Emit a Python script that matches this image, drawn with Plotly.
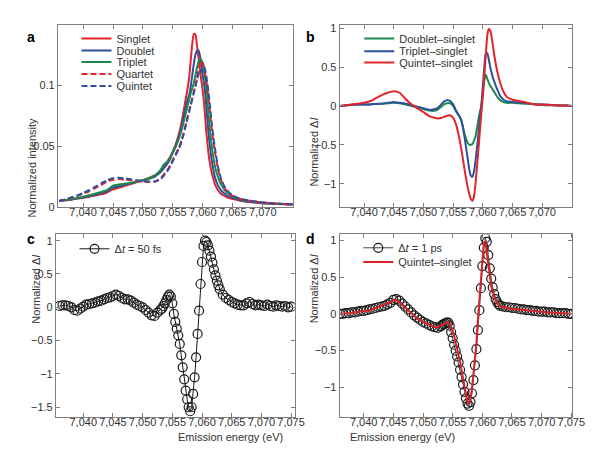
import plotly.graph_objects as go

# ---- panel a / b : emission energy grid (eV) ----
energy_ab = [7036, 7037, 7038, 7039, 7040, 7041, 7042, 7043, 7044, 7045, 7046, 7047, 7048, 7049, 7050, 7051, 7052,
             7052.5, 7053, 7053.5, 7054, 7054.5, 7055, 7055.5,
             7056, 7056.25, 7056.5, 7056.75, 7057, 7057.25, 7057.5, 7057.75, 7058, 7058.25, 7058.5, 7058.75,
             7059, 7059.25, 7059.5, 7059.75, 7060, 7060.25, 7060.5, 7060.75, 7061, 7061.25, 7061.5, 7061.75, 7062,
             7062.5, 7063, 7063.5, 7064,
             7065, 7066, 7067, 7068, 7069, 7070, 7071, 7072, 7073, 7074, 7075]

# panel a: normalized intensity
singlet = [0.005, 0.0055, 0.006, 0.007, 0.0075, 0.0085, 0.0095, 0.0105, 0.012, 0.0145, 0.016, 0.0175, 0.019, 0.0205, 0.022, 0.024, 0.026,
           0.028, 0.030, 0.033, 0.037, 0.041, 0.046, 0.052,
           0.06, 0.065, 0.071, 0.078, 0.085, 0.092, 0.099, 0.108, 0.122, 0.135, 0.1425, 0.142,
           0.134, 0.124, 0.113, 0.104, 0.095, 0.083, 0.066, 0.053, 0.042, 0.034, 0.028, 0.023, 0.019,
           0.014, 0.011, 0.0095, 0.008,
           0.0065, 0.0055, 0.0045, 0.004, 0.0035, 0.003, 0.0028, 0.0025, 0.0023, 0.0021, 0.002]
doublet = [0.005, 0.0055, 0.0062, 0.007, 0.0078, 0.009, 0.010, 0.0115, 0.013, 0.016, 0.0172, 0.0183, 0.0195, 0.0207, 0.022, 0.0232, 0.025,
           0.027, 0.029, 0.032, 0.035, 0.039, 0.045, 0.051,
           0.058, 0.062, 0.067, 0.073, 0.079, 0.084, 0.089, 0.093, 0.1, 0.109, 0.118, 0.125,
           0.1285, 0.129, 0.125, 0.117, 0.108, 0.1, 0.088, 0.072, 0.058, 0.047, 0.038, 0.031, 0.025,
           0.018, 0.014, 0.0115, 0.0095,
           0.0075, 0.006, 0.005, 0.0043, 0.0038, 0.0033, 0.003, 0.0027, 0.0025, 0.0023, 0.0021]
triplet = [0.005, 0.0057, 0.0065, 0.0075, 0.0085, 0.0097, 0.011, 0.0125, 0.014, 0.0175, 0.0185, 0.0192, 0.02, 0.021, 0.022, 0.0235, 0.026,
           0.028, 0.031, 0.035, 0.037, 0.04, 0.045, 0.05,
           0.056, 0.06, 0.064, 0.069, 0.074, 0.079, 0.084, 0.089, 0.094, 0.098, 0.102, 0.108,
           0.114, 0.119, 0.1215, 0.121, 0.117, 0.11, 0.102, 0.088, 0.073, 0.06, 0.05, 0.041, 0.034,
           0.025, 0.019, 0.015, 0.012,
           0.0085, 0.0068, 0.0056, 0.0048, 0.0042, 0.0036, 0.0032, 0.0028, 0.0026, 0.0024, 0.0022]
quartet = [0.005, 0.006, 0.0075, 0.009, 0.011, 0.013, 0.0155, 0.018, 0.021, 0.0225, 0.023, 0.0225, 0.022, 0.0215, 0.021, 0.0205, 0.021,
           0.022, 0.024, 0.027, 0.03, 0.034, 0.039, 0.044,
           0.049, 0.052, 0.056, 0.06, 0.065, 0.07, 0.075, 0.08, 0.085, 0.09, 0.095, 0.1,
           0.106, 0.112, 0.117, 0.12, 0.119, 0.113, 0.106, 0.098, 0.087, 0.075, 0.063, 0.054, 0.046,
           0.032, 0.023, 0.017, 0.013,
           0.009, 0.007, 0.0058, 0.005, 0.0043, 0.0037, 0.0033, 0.0029, 0.0026, 0.0024, 0.0022]
quintet = [0.005, 0.0062, 0.0078, 0.0095, 0.0115, 0.0138, 0.0165, 0.0195, 0.022, 0.0238, 0.024, 0.0235, 0.0228, 0.022, 0.0215, 0.021, 0.021,
           0.022, 0.023, 0.026, 0.029, 0.033, 0.038, 0.043,
           0.048, 0.051, 0.055, 0.059, 0.064, 0.069, 0.074, 0.079, 0.084, 0.089, 0.094, 0.099,
           0.104, 0.109, 0.113, 0.111, 0.115, 0.115, 0.11, 0.102, 0.092, 0.08, 0.068, 0.058, 0.049,
           0.034, 0.024, 0.018, 0.014,
           0.0095, 0.0073, 0.006, 0.0051, 0.0044, 0.0038, 0.0034, 0.003, 0.0027, 0.0025, 0.0023]

# panel b: normalized difference spectra
doublet_singlet = [0.0, 0.01, 0.015, 0.02, 0.02, 0.02, 0.025, 0.03, 0.035, 0.04, 0.035, 0.02, 0.0, -0.02, -0.04, -0.06, -0.06,
                   -0.04, -0.01, 0.02, 0.035, 0.035, 0.0, -0.07,
                   -0.13, -0.16, -0.22, -0.3, -0.38, -0.44, -0.48, -0.5, -0.5, -0.49, -0.45, -0.4,
                   -0.3, -0.18, -0.08, 0.0, 0.17, 0.33, 0.4, 0.35, 0.3, 0.26, 0.23, 0.2, 0.17,
                   0.11, 0.07, 0.05, 0.04,
                   0.04, 0.035, 0.03, 0.025, 0.02, 0.015, 0.01, 0.01, 0.005, 0.005, 0.0]
triplet_singlet = [0.0, 0.01, 0.015, 0.02, 0.02, 0.02, 0.025, 0.03, 0.04, 0.05, 0.04, 0.03, 0.01, -0.01, -0.03, -0.05, -0.04,
                   -0.02, 0.02, 0.06, 0.075, 0.065, 0.02, -0.06,
                   -0.12, -0.16, -0.22, -0.32, -0.44, -0.57, -0.7, -0.83, -0.9, -0.91, -0.85, -0.72,
                   -0.55, -0.37, -0.18, 0.0, 0.25, 0.5, 0.67, 0.68, 0.6, 0.5, 0.42, 0.35, 0.3,
                   0.2, 0.12, 0.08, 0.06,
                   0.05, 0.045, 0.04, 0.03, 0.02, 0.02, 0.015, 0.01, 0.005, 0.005, 0.0]
quintet_singlet = [0.0, 0.01, 0.02, 0.03, 0.04, 0.06, 0.1, 0.14, 0.17, 0.19, 0.17, 0.09, 0.02, -0.03, -0.08, -0.13, -0.155,
                   -0.16, -0.155, -0.14, -0.125, -0.12, -0.15, -0.24,
                   -0.4, -0.5, -0.61, -0.73, -0.85, -0.96, -1.06, -1.14, -1.2, -1.22, -1.17, -1.02,
                   -0.8, -0.57, -0.33, -0.1, 0.12, 0.38, 0.66, 0.9, 0.99, 0.97, 0.88, 0.75, 0.62,
                   0.42, 0.28, 0.18, 0.12,
                   0.08, 0.065, 0.05, 0.03, 0.02, 0.02, 0.015, 0.01, 0.005, 0.005, 0.0]

# ---- panel c / d : emission energy grid (eV) ----
energy_cd = [7036, 7036.5, 7037, 7037.5, 7038, 7038.5, 7039, 7039.5, 7040, 7040.5, 7041, 7041.5, 7042, 7042.5,
             7043, 7043.5, 7044, 7044.5, 7045, 7045.5, 7046, 7046.5, 7047, 7047.5, 7048, 7048.5, 7049, 7049.5,
             7050, 7050.5, 7051, 7051.5, 7052, 7052.5, 7053,
             7053.25, 7053.5, 7053.75, 7054, 7054.25, 7054.5, 7054.75, 7055, 7055.25, 7055.5, 7055.75, 7056,
             7056.25, 7056.5, 7056.75, 7057, 7057.25, 7057.5, 7057.75, 7058, 7058.25, 7058.5, 7058.75, 7059,
             7059.25, 7059.5, 7059.75, 7060, 7060.25, 7060.5, 7060.75, 7061, 7061.25, 7061.5, 7061.75, 7062,
             7062.25, 7062.5, 7062.75, 7063,
             7063.5, 7064, 7064.5, 7065, 7065.5, 7066, 7066.5, 7067, 7067.5, 7068, 7068.5, 7069, 7069.5,
             7070, 7070.5, 7071, 7071.5, 7072, 7072.5, 7073, 7073.5, 7074, 7074.5, 7075]

# panel c: delta t = 50 fs
dt_50fs = [0.02, 0.03, 0.03, 0.02, 0.0, -0.04, -0.05, -0.02, 0.01, 0.04, 0.05, 0.06, 0.07, 0.09,
           0.1, 0.12, 0.14, 0.15, 0.17, 0.19, 0.17, 0.14, 0.12, 0.12, 0.1, 0.07, 0.04, 0.02,
           0.0, -0.04, -0.08, -0.12, -0.13, -0.08, -0.04,
           -0.02, 0.02, 0.06, 0.11, 0.16, 0.19, 0.16, 0.06, -0.1, -0.22, -0.32, -0.42,
           -0.55, -0.72, -0.9, -1.08, -1.25, -1.38, -1.5, -1.56, -1.5, -1.3, -1.05, -0.75,
           -0.4, -0.05, 0.35, 0.68, 0.92, 1.0, 0.98, 0.93, 0.85, 0.76, 0.67, 0.57,
           0.48, 0.4, 0.33, 0.27,
           0.19, 0.14, 0.11, 0.08, 0.06, 0.04, 0.03, 0.03, 0.06, 0.08, 0.05, 0.03, 0.04,
           0.03, 0.02, 0.04, 0.02, 0.01, 0.03, 0.02, 0.01, 0.02, 0.0, 0.01]

# panel d: delta t = 1 ps and quintet-singlet reference
dt_1ps = [0.0, 0.0, 0.01, 0.01, 0.02, 0.02, 0.03, 0.04, 0.04, 0.05, 0.06, 0.07, 0.08, 0.09,
          0.1, 0.11, 0.13, 0.15, 0.19, 0.2, 0.18, 0.14, 0.1, 0.06, 0.02, -0.02, -0.05, -0.08,
          -0.11, -0.13, -0.15, -0.17, -0.18, -0.19, -0.17,
          -0.15, -0.14, -0.13, -0.12, -0.12, -0.16, -0.25, -0.33, -0.42, -0.5, -0.58, -0.66,
          -0.76, -0.86, -0.96, -1.06, -1.15, -1.22, -1.25, -1.2, -1.08, -0.9, -0.7, -0.48,
          -0.22, 0.05, 0.35, 0.65, 0.9, 1.03, 0.98, 0.8, 0.62, 0.48, 0.36, 0.27,
          0.2, 0.16, 0.13, 0.11,
          0.1, 0.09, 0.09, 0.08, 0.08, 0.07, 0.06, 0.06, 0.05, 0.05, 0.04, 0.04, 0.03,
          0.03, 0.03, 0.02, 0.02, 0.02, 0.01, 0.01, 0.01, 0.01, 0.0, 0.0]
quintet_ref = [0.0, 0.0, 0.005, 0.01, 0.015, 0.02, 0.025, 0.03, 0.04, 0.045, 0.05, 0.065, 0.08, 0.09,
               0.105, 0.12, 0.14, 0.16, 0.18, 0.19, 0.16, 0.12, 0.08, 0.05, 0.01, -0.03, -0.06, -0.09,
               -0.11, -0.13, -0.15, -0.17, -0.18, -0.18, -0.16,
               -0.15, -0.13, -0.12, -0.11, -0.11, -0.14, -0.18, -0.23, -0.3, -0.38, -0.47, -0.55,
               -0.65, -0.77, -0.89, -0.99, -1.1, -1.2, -1.23, -1.15, -1.02, -0.83, -0.62, -0.4,
               -0.08, 0.2, 0.5, 0.78, 0.97, 0.98, 0.82, 0.66, 0.5, 0.38, 0.29, 0.22,
               0.18, 0.15, 0.12, 0.1,
               0.09, 0.08, 0.075, 0.07, 0.065, 0.06, 0.055, 0.05, 0.045, 0.04, 0.035, 0.035, 0.03,
               0.03, 0.025, 0.02, 0.02, 0.015, 0.015, 0.01, 0.01, 0.005, 0.005, 0.0]

# tick labels
ticks_ab = [7040, 7045, 7050, 7055, 7060, 7065, 7070]
ticks_cd = [7040, 7045, 7050, 7055, 7060, 7065, 7070, 7075]
ticktext_ab = ["7,040", "7,045", "7,050", "7,055", "7,060", "7,065", "7,070"]
ticktext_cd = ["7,040", "7,045", "7,050", "7,055", "7,060", "7,065", "7,070", "7,075"]

RED = "#e3242b"
BLUE = "#2f4f9f"
GREEN = "#1b8a4a"
FONT = "Liberation Sans, Arial, sans-serif"

W, H = 600, 454


def px(x):
    return x / W


def py(y):
    return (H - y) / H


def xd(a, b):
    return [px(a), px(b)]


def yd(top, bottom):
    return [py(bottom), py(top)]


fig = go.Figure()

# panel a
for i, (name, y, color, dash) in enumerate([("Singlet", singlet, RED, "solid"),
                                            ("Doublet", doublet, BLUE, "solid"),
                                            ("Triplet", triplet, GREEN, "solid"),
                                            ("Quartet", quartet, RED, "6px,3px"),
                                            ("Quintet", quintet, BLUE, "6px,3px")]):
    fig.add_trace(go.Scatter(x=energy_ab, y=y, name=name, mode="lines",
                             line=dict(color=color, width=2, dash=dash, shape="spline", smoothing=0.6),
                             xaxis="x", yaxis="y", legend="legend" if i == 0 else "legend%d" % (i + 1)))

# panel b
for i, (name, y, color) in enumerate([("Doublet\u2013singlet", doublet_singlet, GREEN),
                                      ("Triplet\u2013singlet", triplet_singlet, BLUE),
                                      ("Quintet\u2013singlet", quintet_singlet, RED)]):
    fig.add_trace(go.Scatter(x=energy_ab, y=y, name=name, mode="lines",
                             line=dict(color=color, width=2, shape="spline", smoothing=0.6),
                             xaxis="x2", yaxis="y2", legend="legend%d" % (i + 6)))

# panel c
fig.add_trace(go.Scatter(x=energy_cd, y=dt_50fs, name="\u0394<i>t</i> = 50 fs", mode="lines+markers",
                         line=dict(color="#1a1a1a", width=1),
                         marker=dict(symbol="circle-open", size=9, color="#1a1a1a", line=dict(width=1.2)),
                         xaxis="x3", yaxis="y3", legend="legend9"))

# panel d
fig.add_trace(go.Scatter(x=energy_cd, y=dt_1ps, name="\u0394<i>t</i> = 1 ps", mode="lines+markers",
                         line=dict(color="#444444", width=1),
                         marker=dict(symbol="circle-open", size=9, color="#1a1a1a", line=dict(width=1.2)),
                         xaxis="x4", yaxis="y4", legend="legend10"))
fig.add_trace(go.Scatter(x=energy_cd, y=quintet_ref, name="Quintet\u2013singlet", mode="lines",
                         line=dict(color="#d8232a", width=2),
                         xaxis="x4", yaxis="y4", legend="legend11"))

axis_style = dict(showline=True, linecolor="#808080", linewidth=1, mirror="ticks",
                  ticks="inside", ticklen=4, tickcolor="#808080", showgrid=False, zeroline=False,
                  tickfont=dict(size=11, color="#333333", family=FONT))
x_style = dict(axis_style, ticklabelstandoff=-5)

legend_style = dict(bgcolor="rgba(0,0,0,0)", font=dict(size=11, color="#333333", family=FONT),
                    xanchor="left", yanchor="top", tracegroupgap=0, itemwidth=30)

# one legend per entry, so the entries can sit as tightly as in the reference
legend_pos = {"legend": (70, 13.2), "legend2": (70, 25.5), "legend3": (70, 37.2),
              "legend4": (70, 49.5), "legend5": (70, 61.8),
              "legend6": (359, 13.2), "legend7": (359, 26.2), "legend8": (359, 37.8),
              "legend9": (68, 227.8),
              "legend10": (358, 226.8), "legend11": (358, 241.2)}
legends = {k: dict(legend_style, x=px(x), y=py(y)) for k, (x, y) in legend_pos.items()}

fig.update_layout(
    width=W, height=H,
    margin=dict(l=0, r=0, t=0, b=0),
    paper_bgcolor="white", plot_bgcolor="white",
    showlegend=True,
    font=dict(family=FONT, size=11, color="#333333"),
    xaxis=dict(x_style, domain=xd(51, 291), range=[7035.8, 7075], anchor="y",
               tickvals=ticks_ab, ticktext=ticktext_ab),
    yaxis=dict(axis_style, domain=yd(14, 200), range=[0, 0.15], anchor="x",
               tickvals=[0, 0.05, 0.1], ticktext=["0", "0.05", "0.1"]),
    xaxis2=dict(x_style, domain=xd(339, 577), range=[7035.9, 7075.1], anchor="y2",
                tickvals=ticks_ab, ticktext=ticktext_ab),
    yaxis2=dict(axis_style, domain=yd(14, 200), range=[-1.3, 1.045], anchor="x2",
                tickvals=[-1, -0.5, 0, 0.5, 1], ticktext=["\u22121", "\u22120.5", "0", "0.5", "1"]),
    xaxis3=dict(x_style, domain=xd(49, 293), range=[7035.4, 7075.6], anchor="y3",
                tickvals=ticks_cd, ticktext=ticktext_cd),
    yaxis3=dict(axis_style, domain=yd(228, 414), range=[-1.643, 1.093], anchor="x3",
                tickvals=[-1.5, -1, -0.5, 0, 0.5, 1],
                ticktext=["\u22121.5", "\u22121", "\u22120.5", "0", "0.5", "1"]),
    xaxis4=dict(x_style, domain=xd(339, 577), range=[7035.95, 7075.2], anchor="y4",
                tickvals=ticks_cd, ticktext=ticktext_cd),
    yaxis4=dict(axis_style, domain=yd(228, 414), range=[-1.4, 1.08], anchor="x4",
                tickvals=[-1, -0.5, 0, 0.5, 1], ticktext=["\u22121", "\u22120.5", "0", "0.5", "1"]),
    **legends,
)

# panel letters
for letter, x, y in [("a", 17, 16), ("b", 309, 16), ("c", 17, 233), ("d", 309, 233)]:
    fig.add_annotation(text="<b>%s</b>" % letter, x=px(x), y=py(y), xref="paper", yref="paper",
                       showarrow=False, font=dict(size=14, color="black", family=FONT))

# axis titles
for text, x, y, ang in [("Normalized intensity", 16, 107, -90),
                        ("Normalized \u0394<i>I</i>", 313, 107, -90),
                        ("Normalized \u0394<i>I</i>", 21, 321, -90),
                        ("Normalized \u0394<i>I</i>", 313, 321, -90),
                        ("Emission energy (eV)", 172, 443, 0),
                        ("Emission energy (eV)", 459, 443, 0)]:
    fig.add_annotation(text=text, x=px(x), y=py(y), xref="paper", yref="paper",
                       showarrow=False, textangle=ang, font=dict(size=11, color="#333333", family=FONT))

fig.write_html("out.html")
